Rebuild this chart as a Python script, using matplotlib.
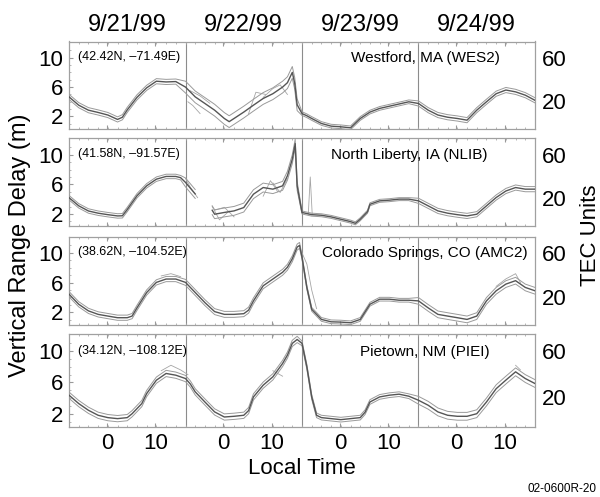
import numpy as np
import matplotlib
matplotlib.use("Agg")
import matplotlib.pyplot as plt

plt.rcParams['font.family'] = ['Liberation Sans', 'DejaVu Sans']

# ---------------- data (UT hours 0..96 over 4 days; delay in metres) ----------------
dates = ["9/21/99", "9/22/99", "9/23/99", "9/24/99"]
stations = ["Westford, MA (WES2)", "North Liberty, IA (NLIB)",
            "Colorado Springs, CO (AMC2)", "Pietown, NM (PIEI)"]
coords = ["(42.42N, \u201371.49E)", "(41.58N, \u201391.57E)",
          "(38.62N, \u2013104.52E)", "(34.12N, \u2013108.12E)"]

wes2_h = [0, 2, 4, 6, 8, 10, 11, 12, 14, 16, 18, 20, 22, 24, 26, 28, 30, 32, 33, 34, 36, 38, 40, 42, 44, 45,
          46, 46.5, 47, 48, 49, 50, 52, 54, 56, 58, 60, 62, 64, 66, 68, 70, 72, 74, 76, 78, 80, 82, 84, 86,
          88, 90, 92, 94, 96]
wes2_v = [4.67, 3.54, 2.86, 2.55, 2.2, 1.6, 1.9, 2.9, 4.6, 5.9, 6.8, 6.7, 6.75, 6.0, 4.67, 3.77, 2.86, 1.73,
          1.3, 1.73, 2.6, 3.54, 4.45, 5.1, 6.0, 6.6, 8.0, 6.5, 3.6, 2.4, 2.1, 1.73, 1.05, 0.69, 0.6, 0.46, 1.73,
          2.6, 3.1, 3.4, 3.7, 4.0, 3.77, 2.86, 2.2, 1.9, 1.73, 1.5, 2.86, 4.0, 5.1, 5.6, 5.35, 4.9, 4.2]

nlib_h = [0, 2, 4, 6, 8, 10, 11, 12, 14, 16, 18, 20, 22, 23, 24, 26, 27.5, 29.5, 30, 32, 34, 36, 38, 40, 42,
          44, 45, 46, 46.6, 47, 48, 50, 52, 54, 56, 58, 59, 60, 61.5, 62, 63, 64, 66, 68, 70, 72, 74, 76, 78,
          80, 82, 84, 86, 88, 90, 92, 94, 96]
nlib_v = [4.2, 3.1, 2.4, 2.1, 1.9, 1.73, 1.75, 2.6, 4.45, 5.8, 6.7, 7.07, 7.07, 6.9, 6.26, 4.7, np.nan, 2.5,
          1.96, 2.2, 2.41, 2.86, 4.67, 5.57, 5.35, 5.8, 7.16, 9.4, 11.5, 5.8, 2.2, 1.9, 1.82, 1.6, 1.28, 0.96,
          0.73, 1.28, 2.3, 3.3, 3.54, 3.77, 3.86, 4.0, 4.0, 3.77, 3.09, 2.41, 2.1, 1.9, 1.73, 1.96, 3.09, 4.22,
          5.1, 5.57, 5.35, 5.35]

amc2_h = [0, 2, 4, 6, 8, 10, 12, 13, 14, 16, 18, 20, 22, 24, 26, 28, 30, 32, 34, 36, 37, 38, 40, 42, 44, 45,
          46, 47, 47.5, 48, 49, 50, 52, 54, 56, 58, 60, 62, 64, 66, 68, 70, 72, 74, 76, 78, 80, 82, 84, 86, 88,
          90, 92, 94, 96]
amc2_v = [4.45, 3.09, 2.2, 1.73, 1.5, 1.28, 1.28, 1.5, 2.6, 4.67, 6.03, 6.48, 6.48, 6.03, 4.67, 3.31, 2.1,
          1.73, 1.73, 1.82, 2.3, 3.54, 5.57, 6.48, 7.39, 8.07, 9.2, 10.78, 11.0, 9.42, 5.35, 2.41, 1.05, 0.73,
          0.69, 0.6, 1.05, 3.09, 3.77, 3.77, 3.63, 3.63, 3.54, 2.6, 1.73, 1.5, 1.28, 1.05, 1.5, 3.54, 4.9, 5.8,
          6.26, 5.35, 4.9]

piei_h = [0, 2, 4, 6, 8, 10, 12, 13, 14, 15, 16, 18, 20, 22, 24, 25, 26, 28, 30, 32, 34, 36, 37, 38, 40, 42,
          44, 45, 46, 47, 48, 49, 50, 51, 52, 54, 56, 58, 60, 61, 62, 64, 66, 68, 70, 72, 74, 76, 78, 80, 82,
          84, 86, 88, 90, 92, 94, 96]
piei_v = [4.37, 3.3, 2.44, 1.8, 1.5, 1.37, 1.5, 2.0, 2.65, 3.3, 4.58, 6.29, 7.15, 6.93, 6.5, 5.8, 4.8, 3.5,
          2.23, 1.58, 1.67, 1.8, 2.4, 4.15, 5.65, 6.72, 8.43, 9.5, 11.0, 11.5, 11.0, 8.0, 4.15, 1.8, 1.5, 1.37,
          1.24, 1.37, 1.5, 2.2, 3.5, 4.15, 4.37, 4.5, 4.24, 3.72, 3.08, 2.23, 1.8, 1.67, 1.67, 2.0, 3.5, 5.2,
          6.3, 7.36, 6.5, 5.86]

# half-width of the bundle of satellite traces, per day
spread_wes2 = [0.35, 0.8, 0.25, 0.35]
spread_nlib = [0.3, 0.6, 0.2, 0.35]
spread_amc2 = [0.35, 0.4, 0.25, 0.45]
spread_piei = [0.4, 0.4, 0.3, 0.5]

# stray individual satellite traces (hours, values)
strays_wes2 = [([24.5, 25.5, 27], [4.0, 3.5, 2.4]), ([25, 27, 29], [5.5, 4.8, 3.8]),
               ([37, 38.5, 40.5], [2.4, 5.3, 5.0]), ([40, 42, 43.5, 45], [4.6, 5.8, 6.3, 5.0])]
strays_nlib = [([29.5, 31, 33], [3.0, 1.2, 2.4]), ([30, 32, 34], [2.5, 2.9, 1.6]),
               ([40, 41.5, 43], [4.4, 6.5, 5.0]), ([42, 43.5, 45], [6.2, 4.9, 6.8]),
               ([49.3, 49.7, 50.1], [2.0, 7.0, 2.0]), ([24, 25, 26.5], [6.8, 5.6, 4.2])]
strays_amc2 = [([48, 49, 50, 51], [10.0, 8.5, 5.0, 2.5]), ([88, 90, 92, 93], [5.5, 6.5, 7.2, 6.0]),
               ([19, 21, 23], [6.9, 7.2, 6.8])]
strays_piei = [([19, 21, 23, 24.5], [7.5, 8.2, 7.6, 7.0]), ([92, 93], [8.2, 7.6]),
               ([42, 44], [7.5, 6.8])]

tec_ticks = [20, 60]
delay_ticks = [2, 6, 10]
local_ticks = ["0", "10"]

series = [(wes2_h, wes2_v, spread_wes2, strays_wes2),
          (nlib_h, nlib_v, spread_nlib, strays_nlib),
          (amc2_h, amc2_v, spread_amc2, strays_amc2),
          (piei_h, piei_v, spread_piei, strays_piei)]

# ---------------- layout ----------------
W, H = 600, 497
fig = plt.figure(figsize=(W / 100, H / 100), dpi=100)
row_px = [(41.5, 129), (138.5, 226.5), (236.5, 325), (334, 427)]
x0, x1 = 69, 535
label_x = [0.764, 0.73, 0.764, 0.764]
ylo, yhi = 0.3, 12.2
tec_a, tec_b = 6.78, -7.8
local_offset = 7.8

axes = []
for i, (t, b) in enumerate(row_px):
    ax = fig.add_axes([x0 / W, 1 - b / H, (x1 - x0) / W, (b - t) / H])
    axes.append(ax)
    h, v, spread, strays = series[i]
    h = np.asarray(h, float)
    v = np.asarray(v, float)
    day = np.minimum((h // 24).astype(int), 3)
    s = np.asarray(spread)[day]
    for hs, vs in strays:
        ax.plot(hs, vs, color='#a5a5a5', lw=0.6, zorder=2)
    ax.plot(h, v + s, color='#9a9a9a', lw=0.7, zorder=3)
    ax.plot(h, v - s, color='#9a9a9a', lw=0.7, zorder=3)
    ax.plot(h, v, color='#555555', lw=1.0, zorder=4)
    for d in (24, 48, 72):
        ax.axvline(d, color='#8c8c8c', lw=0.8, zorder=1)
    ax.set_xlim(0, 96)
    ax.set_ylim(ylo, yhi)
    ax.set_yticks(delay_ticks)
    ax.set_yticklabels([str(k) for k in delay_ticks], fontsize=16)
    xt = []
    for d in range(4):
        xt += [d * 24 + local_offset, d * 24 + local_offset + 10]
    ax.set_xticks(xt)
    if i == 3:
        ax.set_xticklabels(local_ticks * 4, fontsize=16)
    else:
        ax.set_xticklabels([])
    ax.set_xticks(np.arange(0, 97, 2), minor=True)
    ax.set_yticks(np.arange(1, 12, 1), minor=True)
    ax.tick_params(which='major', direction='in', length=3, color='#999999', pad=4,
                   top=True, bottom=True, left=True, right=False)
    ax.tick_params(which='minor', direction='in', length=1.5, color='#aaaaaa',
                   top=True, bottom=True, left=True, right=True)
    for sp in ax.spines.values():
        sp.set_color('#a0a0a0')
        sp.set_linewidth(0.9)
    ax.text(0.019, 0.82, coords[i], transform=ax.transAxes, fontsize=9,
            ha='left', va='center')
    ax.text(label_x[i], 0.81, stations[i], transform=ax.transAxes, fontsize=11,
            ha='center', va='center')
    ax2 = ax.twinx()
    ax2.set_ylim(tec_a * ylo + tec_b, tec_a * yhi + tec_b)
    ax2.set_yticks(tec_ticks)
    ax2.set_yticklabels([str(k) for k in tec_ticks], fontsize=16)
    ax2.tick_params(length=0, pad=5)
    for sp in ax2.spines.values():
        sp.set_visible(False)

for d, lab in enumerate(dates):
    cx = x0 + (x1 - x0) / 4 * (d + 0.5)
    fig.text(cx / W, 1 - 25 / H, lab, fontsize=17, ha='center', va='center')

fig.text(20 / W, 1 - 245 / H, "Vertical Range Delay (m)", rotation=90, fontsize=17,
         ha='center', va='center')
fig.text(591 / W, 1 - 235 / H, "TEC Units", rotation=90, fontsize=16,
         ha='center', va='center')
fig.text(302 / W, 1 - 468 / H, "Local Time", fontsize=16, ha='center', va='center')
fig.text(596 / W, 1 - 489 / H, "02-0600R-20", fontsize=8.5, ha='right', va='center')

fig.savefig("out.png", dpi=100)
